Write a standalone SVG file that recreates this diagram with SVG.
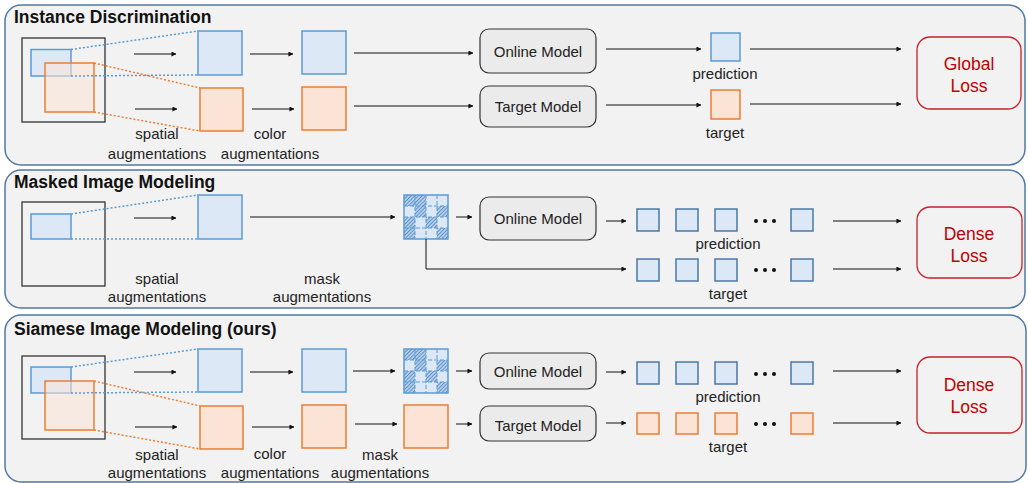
<svg xmlns="http://www.w3.org/2000/svg" width="1028" height="483" viewBox="0 0 1028 483">
  <style>
    .panel { fill: #f2f2f2; stroke: #5079a5; stroke-width: 1.5; }
    .title { font-family: "Liberation Sans", Arial, sans-serif; font-weight: bold; font-size: 17.5px; fill: #111; }
    .lbl { font-family: "Liberation Sans", Arial, sans-serif; font-size: 15px; fill: #222; text-anchor: middle; }
    .loss { font-family: "Liberation Sans", Arial, sans-serif; font-size: 17.5px; fill: #c00000; text-anchor: middle; }
    .frame { fill: none; stroke: #333; stroke-width: 1.3; }
    .bsq { fill: #dce8f5; stroke: #5b9bd5; stroke-width: 1.5; }
    .bsq2 { fill: #dce8f5; stroke: #4a78a8; stroke-width: 1.5; }
    .osq { fill: #fbe4d5; stroke: #ed7d31; stroke-width: 1.5; }
    .ocrop { fill: #fbe4d5; fill-opacity: 0.55; stroke: #ed7d31; stroke-width: 1.5; }
    .model { fill: #ebebeb; stroke: #333; stroke-width: 1.2; }
    .lossbox { fill: #f2f2f2; stroke: #c8202a; stroke-width: 1.3; }
    .arr { stroke: #111; stroke-width: 1; fill: none; marker-end: url(#ah); }
    .dotb { stroke: #5b9bd5; stroke-width: 1.5; stroke-dasharray: 2 2; fill: none; }
    .doto { stroke: #ed7d31; stroke-width: 1.5; stroke-dasharray: 2 2; fill: none; }
    .dots { fill: #111; }
  </style>
  <defs>
    <marker id="ah" viewBox="0 0 6 6" refX="5.5" refY="3" markerWidth="5" markerHeight="5" orient="auto" markerUnits="userSpaceOnUse">
      <path d="M0,0 L6,3 L0,6 z" fill="#111"/>
    </marker>
    <pattern id="hatch" width="2.6" height="2.6" patternUnits="userSpaceOnUse" patternTransform="rotate(45)">
      <rect width="2.6" height="2.6" fill="#b3cfec"/>
      <line x1="0" y1="0" x2="0" y2="2.6" stroke="#2a67a8" stroke-width="1.1"/>
    </pattern>
    <!-- 4x4 masked patch grid, 44x44 -->
    <g id="maskgrid">
      <rect x="0" y="0" width="44" height="44" fill="#dce8f5"/>
      <rect x="0" y="0" width="11" height="11" fill="url(#hatch)"/>
      <rect x="11" y="0" width="11" height="11" fill="url(#hatch)"/>
      <rect x="11" y="11" width="11" height="11" fill="url(#hatch)"/>
      <rect x="33" y="11" width="11" height="11" fill="url(#hatch)"/>
      <rect x="0" y="22" width="11" height="11" fill="url(#hatch)"/>
      <rect x="22" y="22" width="11" height="11" fill="url(#hatch)"/>
      <rect x="0" y="33" width="11" height="11" fill="url(#hatch)"/>
      <rect x="33" y="33" width="11" height="11" fill="url(#hatch)"/>
      <path d="M11,0 V44 M22,0 V44 M33,0 V44 M0,11 H44 M0,22 H44 M0,33 H44" stroke="#5b9bd5" stroke-width="1" stroke-dasharray="4 2" fill="none"/>
      <rect x="0" y="0" width="44" height="44" fill="none" stroke="#5b9bd5" stroke-width="1.5"/>
    </g>
  </defs>

  <!-- ============ Panel 1: Instance Discrimination ============ -->
  <g id="panel-instance">
    <rect class="panel" x="5" y="5" width="1020" height="160" rx="16"/>
    <text class="title" x="14" y="23">Instance Discrimination</text>
  </g>
  <g id="p1-image">
    <rect class="frame" x="22" y="38" width="83" height="84"/>
    <rect class="bsq" x="31" y="49.5" width="40" height="26.5"/>
    <rect class="ocrop" x="45" y="63" width="49" height="49"/>
  </g>
  <g id="p1-view1"><rect class="bsq" x="198" y="31" width="44" height="44"/></g>
  <g id="p1-view2"><rect class="osq" x="200" y="88" width="43" height="43"/></g>
  <g id="p1-color1"><rect class="bsq" x="302" y="31" width="44" height="43"/></g>
  <g id="p1-color2"><rect class="osq" x="302" y="87" width="44" height="43"/></g>
  <g id="p1-online">
    <rect class="model" x="480" y="29" width="116" height="44" rx="9"/>
    <text class="lbl" x="538" y="57">Online Model</text>
  </g>
  <g id="p1-target">
    <rect class="model" x="480" y="86" width="116" height="41" rx="9"/>
    <text class="lbl" x="538" y="112">Target Model</text>
  </g>
  <g id="p1-pred">
    <rect class="bsq" x="711" y="33" width="29" height="28"/>
    <text class="lbl" x="725" y="79">prediction</text>
  </g>
  <g id="p1-tgt">
    <rect class="osq" x="711" y="90" width="29" height="29"/>
    <text class="lbl" x="725" y="138">target</text>
  </g>
  <g id="p1-loss">
    <rect class="lossbox" x="917" y="37" width="104" height="72" rx="13"/>
    <text class="loss" x="969" y="70">Global</text>
    <text class="loss" x="969" y="92">Loss</text>
  </g>
  <g id="p1-labels">
    <text class="lbl" x="157" y="139">spatial</text>
    <text class="lbl" x="157" y="159">augmentations</text>
    <text class="lbl" x="270" y="139">color</text>
    <text class="lbl" x="270" y="159">augmentations</text>
  </g>

  <!-- ============ Panel 2: Masked Image Modeling ============ -->
  <g id="panel-mim">
    <rect class="panel" x="5" y="170" width="1020" height="138" rx="16"/>
    <text class="title" x="14" y="188">Masked Image Modeling</text>
  </g>
  <g id="p2-image">
    <rect class="frame" x="22" y="202" width="83" height="84"/>
    <rect class="bsq" x="31" y="214" width="40" height="25"/>
  </g>
  <g id="p2-view"><rect class="bsq" x="198" y="195" width="44" height="44"/></g>
  <g id="p2-masked"><use href="#maskgrid" x="404" y="195"/></g>
  <g id="p2-online">
    <rect class="model" x="480" y="197" width="116" height="43" rx="9"/>
    <text class="lbl" x="538" y="224">Online Model</text>
  </g>
  <g id="p2-pred">
    <rect class="bsq2" x="637" y="209" width="22" height="22"/>
    <rect class="bsq2" x="676" y="209" width="22" height="22"/>
    <rect class="bsq2" x="715" y="209" width="22" height="22"/>
    <circle class="dots" cx="756" cy="221" r="2"/>
    <circle class="dots" cx="765" cy="221" r="2"/>
    <circle class="dots" cx="774" cy="221" r="2"/>
    <rect class="bsq2" x="791" y="209" width="22" height="22"/>
    <text class="lbl" x="728" y="249">prediction</text>
  </g>
  <g id="p2-tgt">
    <rect class="bsq2" x="637" y="259" width="22" height="22"/>
    <rect class="bsq2" x="676" y="259" width="22" height="22"/>
    <rect class="bsq2" x="715" y="259" width="22" height="22"/>
    <circle class="dots" cx="756" cy="270" r="2"/>
    <circle class="dots" cx="765" cy="270" r="2"/>
    <circle class="dots" cx="774" cy="270" r="2"/>
    <rect class="bsq2" x="791" y="259" width="22" height="22"/>
    <text class="lbl" x="728" y="299">target</text>
  </g>
  <g id="p2-loss">
    <rect class="lossbox" x="917" y="207" width="105" height="71" rx="13"/>
    <text class="loss" x="969" y="240">Dense</text>
    <text class="loss" x="969" y="262">Loss</text>
  </g>
  <g id="p2-labels">
    <text class="lbl" x="157" y="284">spatial</text>
    <text class="lbl" x="157" y="302">augmentations</text>
    <text class="lbl" x="322" y="284">mask</text>
    <text class="lbl" x="322" y="302">augmentations</text>
  </g>

  <!-- ============ Panel 3: Siamese Image Modeling ============ -->
  <g id="panel-sim">
    <rect class="panel" x="5" y="315" width="1021" height="167" rx="16"/>
    <text class="title" x="14" y="335">Siamese Image Modeling (ours)</text>
  </g>
  <g id="p3-image">
    <rect class="frame" x="22" y="356" width="83" height="83"/>
    <rect class="bsq" x="31" y="367" width="40" height="26"/>
    <rect class="ocrop" x="45" y="381" width="49" height="49"/>
  </g>
  <g id="p3-view1"><rect class="bsq" x="198" y="349" width="44" height="43"/></g>
  <g id="p3-view2"><rect class="osq" x="200" y="406" width="43" height="43"/></g>
  <g id="p3-color1"><rect class="bsq" x="302" y="349" width="44" height="43"/></g>
  <g id="p3-color2"><rect class="osq" x="302" y="405" width="44" height="43"/></g>
  <g id="p3-masked"><use href="#maskgrid" x="404" y="349"/></g>
  <g id="p3-unmasked"><rect class="osq" x="404" y="405" width="44" height="43"/></g>
  <g id="p3-online">
    <rect class="model" x="480" y="353" width="116" height="36" rx="9"/>
    <text class="lbl" x="538" y="377">Online Model</text>
  </g>
  <g id="p3-target">
    <rect class="model" x="480" y="406" width="116" height="35" rx="9"/>
    <text class="lbl" x="538" y="431">Target Model</text>
  </g>
  <g id="p3-pred">
    <rect class="bsq2" x="637" y="362" width="22" height="22"/>
    <rect class="bsq2" x="676" y="362" width="22" height="22"/>
    <rect class="bsq2" x="715" y="362" width="22" height="22"/>
    <circle class="dots" cx="756" cy="374" r="2"/>
    <circle class="dots" cx="765" cy="374" r="2"/>
    <circle class="dots" cx="774" cy="374" r="2"/>
    <rect class="bsq2" x="791" y="362" width="22" height="22"/>
    <text class="lbl" x="728" y="402">prediction</text>
  </g>
  <g id="p3-tgt">
    <rect class="osq" x="637" y="413" width="22" height="21"/>
    <rect class="osq" x="676" y="413" width="22" height="21"/>
    <rect class="osq" x="715" y="413" width="22" height="21"/>
    <circle class="dots" cx="756" cy="424" r="2"/>
    <circle class="dots" cx="765" cy="424" r="2"/>
    <circle class="dots" cx="774" cy="424" r="2"/>
    <rect class="osq" x="791" y="413" width="22" height="21"/>
    <text class="lbl" x="728" y="452">target</text>
  </g>
  <g id="p3-loss">
    <rect class="lossbox" x="917" y="357" width="105" height="76" rx="13"/>
    <text class="loss" x="969" y="391">Dense</text>
    <text class="loss" x="969" y="413">Loss</text>
  </g>
  <g id="p3-labels">
    <text class="lbl" x="157" y="460">spatial</text>
    <text class="lbl" x="157" y="478">augmentations</text>
    <text class="lbl" x="270" y="459">color</text>
    <text class="lbl" x="270" y="478">augmentations</text>
    <text class="lbl" x="380" y="460">mask</text>
    <text class="lbl" x="380" y="478">augmentations</text>
  </g>

  <!-- ============ Connectors ============ -->
  <g id="connectors">
    <!-- crop projection lines -->
    <line class="dotb" x1="71" y1="49.5" x2="198" y2="31"/>
    <line class="dotb" x1="71" y1="76" x2="198" y2="75"/>
    <line class="doto" x1="94" y1="63" x2="200" y2="88"/>
    <line class="doto" x1="94" y1="112" x2="200" y2="131"/>
    <line class="dotb" x1="71" y1="214" x2="198" y2="195"/>
    <line class="dotb" x1="71" y1="239" x2="198" y2="239"/>
    <line class="dotb" x1="71" y1="367" x2="198" y2="349"/>
    <line class="dotb" x1="71" y1="393" x2="198" y2="392"/>
    <line class="doto" x1="94" y1="381" x2="200" y2="406"/>
    <line class="doto" x1="94" y1="430" x2="200" y2="449"/>

    <!-- panel 1 arrows -->
    <line class="arr" x1="134" y1="54" x2="176" y2="54"/>
    <line class="arr" x1="135" y1="109" x2="177" y2="109"/>
    <line class="arr" x1="250" y1="54" x2="293" y2="54"/>
    <line class="arr" x1="252" y1="109" x2="294" y2="109"/>
    <line class="arr" x1="354" y1="53" x2="473" y2="53"/>
    <line class="arr" x1="354" y1="106" x2="473" y2="106"/>
    <line class="arr" x1="606" y1="49" x2="701" y2="49"/>
    <line class="arr" x1="606" y1="105" x2="701" y2="105"/>
    <line class="arr" x1="750" y1="49" x2="901" y2="49"/>
    <line class="arr" x1="750" y1="104" x2="901" y2="104"/>

    <!-- panel 2 arrows -->
    <line class="arr" x1="134" y1="218" x2="176" y2="218"/>
    <line class="arr" x1="250" y1="217" x2="395" y2="217"/>
    <line class="arr" x1="456" y1="217" x2="472" y2="217"/>
    <line class="arr" x1="606" y1="221" x2="626" y2="221"/>
    <path class="arr" d="M426,239 V269 H626"/>
    <line class="arr" x1="833" y1="221" x2="901" y2="221"/>
    <line class="arr" x1="833" y1="269" x2="901" y2="269"/>

    <!-- panel 3 arrows -->
    <line class="arr" x1="134" y1="372" x2="176" y2="372"/>
    <line class="arr" x1="135" y1="427" x2="177" y2="427"/>
    <line class="arr" x1="250" y1="372" x2="293" y2="372"/>
    <line class="arr" x1="252" y1="427" x2="294" y2="427"/>
    <line class="arr" x1="353" y1="371" x2="395" y2="371"/>
    <line class="arr" x1="355" y1="424" x2="397" y2="424"/>
    <line class="arr" x1="456" y1="371" x2="472" y2="371"/>
    <line class="arr" x1="456" y1="424" x2="472" y2="424"/>
    <line class="arr" x1="606" y1="372" x2="626" y2="372"/>
    <line class="arr" x1="606" y1="423" x2="626" y2="423"/>
    <line class="arr" x1="833" y1="371" x2="901" y2="371"/>
    <line class="arr" x1="833" y1="423" x2="901" y2="423"/>
  </g>
</svg>
